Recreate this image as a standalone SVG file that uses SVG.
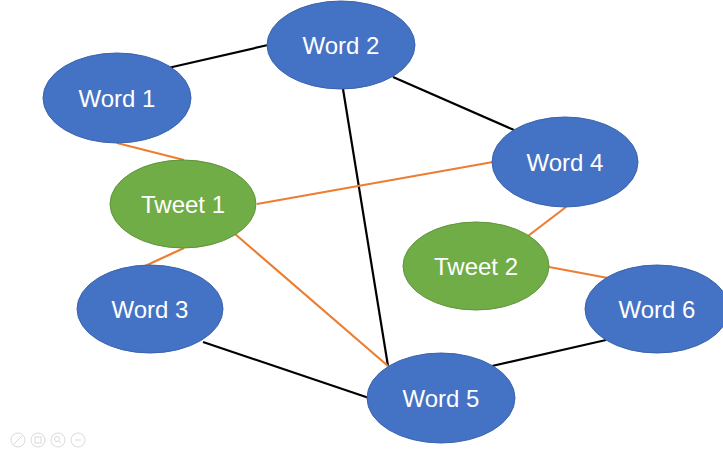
<svg xmlns="http://www.w3.org/2000/svg" width="723" height="457" viewBox="0 0 723 457">
<style>
.word{fill:#4472C4;stroke:#3A63AE;stroke-width:1}
.tweet{fill:#70AD47;stroke:#5E9439;stroke-width:1}
.lbl{fill:#FFFFFF;font-family:"Liberation Sans","Open Sans",Arial,sans-serif;font-size:24px;text-anchor:middle;dominant-baseline:central}
.blk{stroke:#000000;stroke-width:2.2;fill:none}
.org{stroke:#ED7D31;stroke-width:2.2;fill:none}
.ico{fill:none;stroke:#D9D9D9;stroke-width:1}
</style>
<rect width="723" height="457" fill="#FFFFFF"/>
<g id="connectors">
<line class="blk" x1="168" y1="68" x2="268" y2="45"/>
<line class="blk" x1="393" y1="77" x2="514" y2="130"/>
<line class="blk" x1="343" y1="89" x2="388" y2="366"/>
<line class="blk" x1="203" y1="342" x2="369" y2="398"/>
<line class="blk" x1="492" y1="366" x2="606" y2="340"/>
<line class="org" x1="117" y1="143" x2="184" y2="160"/>
<line class="org" x1="257" y1="204" x2="493" y2="162"/>
<line class="org" x1="184" y1="248" x2="145" y2="266"/>
<line class="org" x1="235" y1="234" x2="388" y2="366"/>
<line class="org" x1="528" y1="236" x2="566" y2="207"/>
<line class="org" x1="549" y1="267" x2="608" y2="278"/>
</g>
<g id="word2"><ellipse class="word" cx="341" cy="45" rx="74" ry="44"/><text class="lbl" x="341" y="45">Word 2</text></g>
<g id="word1"><ellipse class="word" cx="117" cy="98" rx="74" ry="45"/><text class="lbl" x="117" y="98">Word 1</text></g>
<g id="word4"><ellipse class="word" cx="565" cy="162" rx="73" ry="45"/><text class="lbl" x="565" y="162">Word 4</text></g>
<g id="tweet1"><ellipse class="tweet" cx="183" cy="204" rx="73" ry="44"/><text class="lbl" x="183" y="204">Tweet 1</text></g>
<g id="tweet2"><ellipse class="tweet" cx="476" cy="266" rx="73" ry="44"/><text class="lbl" x="476" y="266">Tweet 2</text></g>
<g id="word3"><ellipse class="word" cx="150" cy="309" rx="73" ry="44"/><text class="lbl" x="150" y="309">Word 3</text></g>
<g id="word6"><ellipse class="word" cx="657" cy="309" rx="72" ry="44"/><text class="lbl" x="657" y="309">Word 6</text></g>
<g id="word5"><ellipse class="word" cx="441" cy="398" rx="74" ry="45"/><text class="lbl" x="441" y="398">Word 5</text></g>
<g id="controls">
<circle class="ico" cx="18" cy="440" r="7"/>
<line class="ico" x1="14" y1="444" x2="22" y2="436"/>
<circle class="ico" cx="38" cy="440" r="7"/>
<rect class="ico" x="35" y="437" width="6" height="6"/>
<circle class="ico" cx="58" cy="440" r="7"/>
<circle class="ico" cx="57" cy="439" r="2.5"/>
<line class="ico" x1="59" y1="441" x2="61" y2="443"/>
<circle class="ico" cx="78" cy="440" r="7"/>
<line class="ico" x1="75" y1="440" x2="81" y2="440"/>
</g>
</svg>
